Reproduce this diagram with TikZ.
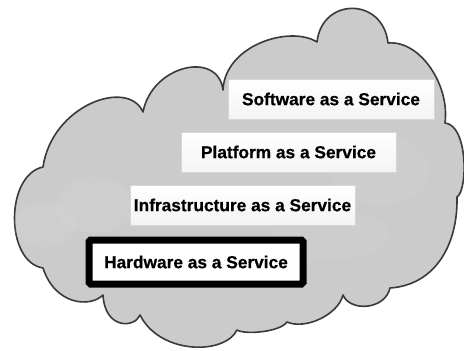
\documentclass[tikz,border=0pt]{standalone}
\usepackage{fontspec}
\setmainfont{Liberation Sans}[BoldFeatures={FakeBold=0.6}]
\usetikzlibrary{shadows}
\definecolor{cloudfill}{HTML}{CBCBCB}
\definecolor{cloudline}{HTML}{3A3A3A}
\definecolor{boxline}{HTML}{D6D6D6}
\begin{document}
\begin{tikzpicture}[x=1pt,y=-1pt,
  layerbox/.style={draw=boxline, line width=0.8pt, top color=white, bottom color=gray!9,
    inner sep=0pt, minimum height=40pt, text=black,
    font=\fontsize{17.3}{19}\selectfont\bfseries,
    drop shadow={opacity=0.18, shadow xshift=1pt, shadow yshift=-1.2pt}},
  hardbox/.style={draw=black, line width=7pt, rounded corners=1.5pt, fill=white,
    inner sep=0pt, minimum width=214pt, minimum height=44pt, text=black,
    font=\fontsize{17.3}{19}\selectfont\bfseries}]
\useasboundingbox (0,0) rectangle (464,351);
\fill[white] (0,0) rectangle (464,351);
% cloud
\draw[fill=cloudfill, draw=cloudline, line width=1.6pt, line join=round]
  (43,167) .. controls (52,105) and (128,78) .. (143,112)
  .. controls (152,65) and (218,50) .. (223,90)
  .. controls (225,45) and (290,25) .. (317,42)
  .. controls (322,-3) and (383,-3) .. (388,43)
  .. controls (420,40) and (450,85) .. (445,123)
  .. controls (468,125) and (468,190) .. (457,197)
  .. controls (458,245) and (435,285) .. (390,288)
  .. controls (385,310) and (350,312) .. (343,295)
  .. controls (338,315) and (305,330) .. (287,322)
  .. controls (280,332) and (245,335) .. (237,330)
  .. controls (225,355) and (160,355) .. (140,315)
  .. controls (135,328) and (105,330) .. (103,295)
  .. controls (90,308) and (55,305) .. (43,268)
  .. controls (5,262) and (5,175) .. cycle;
% subtle lighter patches inside the cloud
\fill[white, opacity=0.07] (45,225) ellipse (32 and 22);
\fill[white, opacity=0.06] (95,205) ellipse (40 and 28);
\fill[white, opacity=0.05] (330,235) ellipse (60 and 25);
\fill[white, opacity=0.05] (380,170) ellipse (50 and 35);
% layers
\node[layerbox, minimum width=206pt] (saas) at (331,99) {Software as a Service};
\node[layerbox, minimum width=215pt] (paas) at (288.5,152) {Platform as a Service};
\node[layerbox, minimum width=225pt] (iaas) at (242.5,205) {Infrastructure as a Service};
\node[hardbox] (haas) at (196,262) {Hardware as a Service};
\end{tikzpicture}
\end{document}
